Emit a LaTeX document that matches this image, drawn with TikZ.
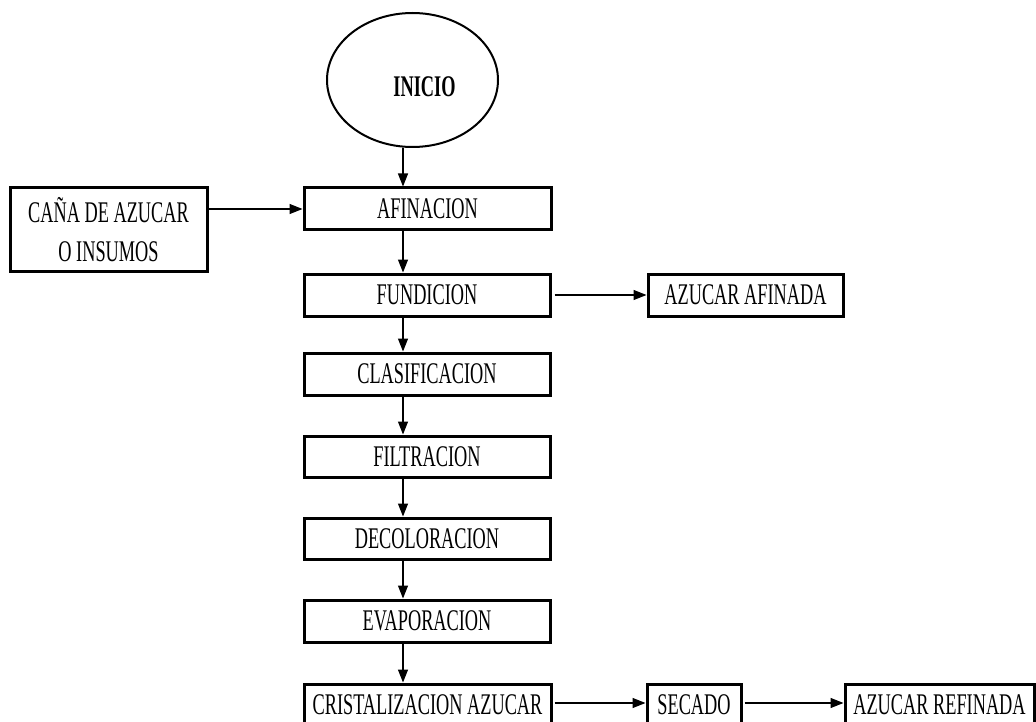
\documentclass[tikz,border=0pt]{standalone}
\usepackage{fontspec}
\setmainfont{Liberation Serif}[FakeStretch=0.61]
\usetikzlibrary{shapes.geometric,arrows.meta}
\begin{document}
\begin{tikzpicture}[x=1pt,y=-1pt,
  every node/.style={font=\fontsize{30}{39}\selectfont, inner sep=0pt},
  stepbox/.style={draw, line width=3pt, minimum height=42pt, align=center},
  startnode/.style={draw, ellipse, line width=2pt, minimum width=171pt, minimum height=134pt, font=\fontsize{30}{39}\selectfont\bfseries},
  flow/.style={line width=1.1pt, -{Triangle[length=13pt,width=10pt]}}
]
\useasboundingbox (0,0) rectangle (1036,722);
\clip (0,0) rectangle (1036,722);

% start (label sits a little right of and below the centre)
\node[startnode] (inicio) at (412.5,80) {\hspace*{24pt}\smash{\raisebox{-17pt}{INICIO}}};

% main column
\node[stepbox, minimum width=247pt] (afin)  at (427.5,209) {AFINACION};
\node[stepbox, minimum width=246pt] (fund)  at (427,295)   {FUNDICION};
\node[stepbox, minimum width=246pt] (clas)  at (427,374)   {CLASIFICACION};
\node[stepbox, minimum width=246pt, minimum height=41pt] (filt) at (427,456.5) {FILTRACION};
\node[stepbox, minimum width=246pt, minimum height=41pt] (deco) at (427,538.5) {DECOLORACION};
\node[stepbox, minimum width=246pt] (evap)  at (427,621)   {EVAPORACION};
\node[stepbox, minimum width=247pt] (crist) at (427.5,705) {CRISTALIZACION AZUCAR};

% side boxes
\node[stepbox, minimum width=197pt, minimum height=83pt] (cana) at (108.5,229.5) {CAÑA DE AZUCAR\\O INSUMOS};
\node[stepbox, minimum width=195pt] (afinada)  at (745.5,295) {AZUCAR AFINADA};
\node[stepbox, minimum width=94pt]  (secado)   at (694,705)   {SECADO};
\node[stepbox, minimum width=189pt] (refinada) at (939.5,705) {AZUCAR REFINADA};

% spine of the vertical arrows
\coordinate (spine) at (403,0);

\draw[flow] (inicio.south -| spine) -- (afin.north -| spine);
\draw[flow] (afin.south -| spine)   -- (fund.north -| spine);
\draw[flow] (fund.south -| spine)   -- (clas.north -| spine);
\draw[flow] (clas.south -| spine)   -- (filt.north -| spine);
\draw[flow] (filt.south -| spine)   -- (deco.north -| spine);
\draw[flow] (deco.south -| spine)   -- (evap.north -| spine);
\draw[flow] (evap.south -| spine)   -- (crist.north -| spine);

% horizontal arrows
\draw[flow] (cana.east |- 0,209) -- (afin.west |- 0,209);
\draw[flow] ([xshift=3pt]fund.east) -- (afinada.west);
\draw[flow] ([xshift=2pt]crist.east |- 0,703) -- (secado.west |- 0,703);
\draw[flow] ([xshift=2pt]secado.east |- 0,703) -- (refinada.west |- 0,703);
\end{tikzpicture}
\end{document}
